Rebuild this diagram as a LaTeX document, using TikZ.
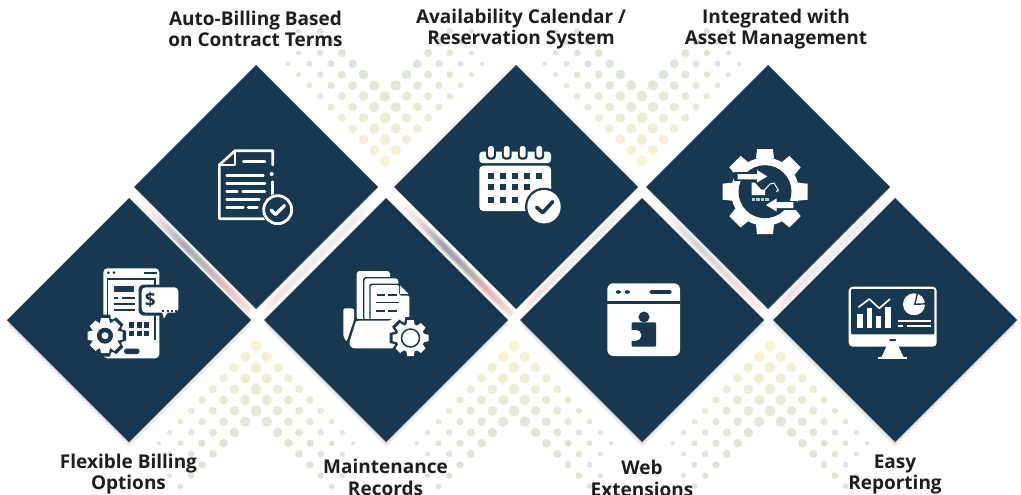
\documentclass[tikz,border=0pt]{standalone}
\usepackage{fontspec}
\setmainfont{Open Sans}
\usetikzlibrary{calc}
\definecolor{navy}{HTML}{163850}
\definecolor{dotyel}{HTML}{F9F3D0}
\definecolor{dotgrn}{HTML}{DDE6D6}
\definecolor{labelink}{HTML}{1E1E1E}
\pgfdeclarehorizontalshading{gapshade}{100bp}{color(0bp)=(white);color(25bp)=(white);color(33bp)=(rgb,255:red,240;green,224;blue,226);color(45bp)=(rgb,255:red,150;green,150;blue,162);color(53bp)=(rgb,255:red,165;green,160;blue,170);color(64bp)=(rgb,255:red,234;green,170;blue,174);color(75bp)=(rgb,255:red,245;green,232;blue,232);color(100bp)=(white)}
\pgfdeclarehorizontalshading{lightshade}{100bp}{color(0bp)=(white);color(25bp)=(white);color(32bp)=(rgb,255:red,240;green,210;blue,212);color(45bp)=(rgb,255:red,228;green,230;blue,234);color(65bp)=(rgb,255:red,226;green,229;blue,233);color(75bp)=(white);color(100bp)=(white)}
\newcommand{\dotfield}[3]{% x, y, dir
  \foreach \u in {0,...,10}{\foreach \v in {0,...,10}{
    \pgfmathtruncatemacro{\mn}{min(\u,\v)}
    \pgfmathtruncatemacro{\mx}{max(\u,\v)}
    \pgfmathtruncatemacro{\lim}{\mn>=2 ? 10 : 9}
    \pgfmathtruncatemacro{\keep}{(\mn<=3 && \mx<=\lim) ? 1 : 0}
    \ifnum\keep=1
      \pgfmathsetmacro{\rr}{5.5-0.37*abs(\u-\v)}
      \pgfmathtruncatemacro{\tt}{min(100,max(0,100-(\u+\v)*12))}
      \fill[dotyel!\tt!dotgrn] ({#1+10.8*(\v-\u)},{#2+#3*10.8*(\u+\v)}) circle[radius=\rr];
    \fi
  }}
}
\newcommand{\gearshape}[7]{% x,y,root,tip,n,colour,tooth half-width
  \fill[#6] (#1,#2) circle[radius=#3];
  \foreach \k in {1,...,#5}{
    \fill[#6,shift={(#1,#2)},rotate=\k*360/#5] (#3-1,-#7-1) -- (#4,-#7) -- (#4,#7) -- (#3-1,#7+1) -- cycle;
  }
}
\newcommand{\shadowof}[2]{%
  \foreach \k in {1,...,6}{
    \fill[black,opacity=.022,shift={(#1,#2+\k)}] (0,-122) -- (122,0) -- (0,122) -- (-122,0) -- cycle;
  }
}
% x, y (upper-left end), rotation, length, shading, opacity
\newcommand{\gapband}[6]{%
  \begin{scope}[shift={(#1,#2)},rotate=#3]
    \shade[shading=#5,opacity=#6] (0,-4) rectangle (#4,4);
    \fill[white,opacity=.5] (0,-4) rectangle (#4,-2.6);
    \fill[white,opacity=.5] (0,2.6) rectangle (#4,4);
  \end{scope}
}
\tikzset{
  diamondbox/.style={draw=none,fill=navy},
  cardlabel/.style={font=\bfseries\fontsize{19}{21.3}\selectfont,text=labelink,align=center,inner sep=0pt},
  whiteline/.style={draw=white,line width=2.6pt,line cap=round,line join=round},
  thinline/.style={draw=white,line width=2.8pt,line cap=round},
}
\begin{document}
\begin{tikzpicture}[x=1pt,y=-1pt]
\useasboundingbox (0,0) rectangle (1021,495);
\fill[white] (0,0) rectangle (1021,495);
\begin{scope}
\clip (0,0) rectangle (1021,495);
% dot fields
\dotfield{385}{161}{-1}
\dotfield{642}{161}{-1}
\dotfield{256}{346}{1}
\dotfield{514}{346}{1}
\dotfield{770}{346}{1}
% shadows
\shadowof{129}{320}\shadowof{386}{320}\shadowof{642}{320}\shadowof{895}{320}
% gaps between the rows
\gapband{140}{201}{-45}{155.6}{gapshade}{.8}
\gapband{400}{202.5}{-45}{158.4}{gapshade}{.9}
\gapband{652}{200}{-45}{155.6}{gapshade}{.4}
\gapband{262}{312.5}{45}{155.6}{lightshade}{.7}
\gapband{522}{310.5}{45}{155.6}{lightshade}{.7}
\gapband{774}{311}{45}{155.6}{lightshade}{.7}
% diamonds
\foreach \nm/\cx/\cy in {d1/256/187,d2/516/187,d3/768/187,d4/129/320,d5/386/320,d6/642/320,d7/895/320}{
  \fill[diamondbox] (\cx,\cy-122) -- (\cx+122,\cy) -- (\cx,\cy+122) -- (\cx-122,\cy) -- cycle;
  \coordinate (\nm) at (\cx,\cy);
}
% ---- document icon
\draw[whiteline] (272.7,165) -- (272.7,150.7) -- (235,150.7) -- (219.3,165) -- (219.3,218.7) -- (265,218.7);
\draw[whiteline] (235,150.7) -- (235,165) -- (219.3,165);
\fill[white] (271.7,174) circle[radius=2];
\draw[whiteline] (272.2,181.7) -- (272.2,195);
\foreach \a/\b/\yy in {243.3/265/161.7,226.7/263.3/175.7,226.7/265/183.7,226.7/237.3/191.7,242.7/265/191.7,226.7/259.3/199.3,226.7/243.3/207.3,248.3/257.3/207.3}{
  \draw[thinline] (\a,\yy) -- (\b,\yy);
}
\fill[navy] (277.7,209.7) circle[radius=16];
\draw[white,line width=2.8pt] (277.7,209.7) circle[radius=14];
\draw[white,line width=3.2pt,line cap=round,line join=round] (271,210) -- (275.5,214.5) -- (284.5,205.5);
% ---- calendar icon
\fill[white,rounded corners=3pt] (479.3,151.7) rectangle (551,163);
\fill[white,rounded corners=4pt] (479.3,165.7) rectangle (551,211);
\foreach \xx in {491,506.7,522.7,539.3}{
  \fill[navy,rounded corners=3pt] (\xx-4.8,144.5) rectangle (\xx+4.8,159.5);
  \fill[white,rounded corners=2.5pt] (\xx-2.9,146) rectangle (\xx+2.9,157.5);
}
\foreach \xx/\yy in {491/175.7,503.3/175.7,515.3/175.7,527.3/175.7,539.3/175.7,491/187.3,503.3/187.3,515.3/187.3,527.3/187.3,491/199.7,503.3/199.7,515.3/199.7}{
  \fill[navy] (\xx-3,\yy-3) rectangle (\xx+3,\yy+3);
}
\fill[navy] (544,206.7) circle[radius=19];
\fill[white] (544,206.7) circle[radius=16.7];
\draw[navy,line width=3.6pt,line cap=round,line join=round] (536.7,207.3) -- (542.7,212.7) -- (552.7,201.7);
% ---- gear icon
\gearshape{765}{191.7}{34}{42.5}{8}{white}{8}
\fill[navy] (765,191.7) circle[radius=26.5];
\draw[navy,line width=9pt] (734,176.7) -- (760,176.7);
\draw[navy,line width=9pt] (770,205) -- (797,205);
\fill[white] (737.7,174) -- (757,174) -- (757,170) -- (767.3,176.5) -- (757,182.5) -- (757,179.3) -- (737.7,179.3) -- cycle;
\fill[white] (793.3,202) -- (776.5,202) -- (776.5,198.5) -- (766,205) -- (776.5,211.5) -- (776.5,208) -- (793.3,208) -- cycle;
\fill[white] (751.7,182.7) -- (755,182.7) -- (761,189.5) -- (765,189.5) -- (765,195) -- (751.7,195) -- cycle;
\draw[white,line width=1pt,line join=round] (764.5,190) -- (770,184) -- (774,183) -- (778.5,190.5) -- (776,191.5);
\foreach \xx in {753.5,758,762.5,767}{\fill[white!75!navy] (\xx-1.6,197.5) rectangle (\xx+1.6,200.5);}
% ---- phone icon
\fill[white,rounded corners=4pt] (103.3,268.3) rectangle (159.3,358.3);
\fill[navy] (108.3,272.7) circle[radius=1.5] (114,272.7) circle[radius=1.5];
\fill[navy] (144,271.7) rectangle (156.7,273.7);
\draw[navy,line width=1.2pt] (107.5,340) -- (107.5,279) -- (155,279) -- (155,340);
\fill[navy] (114.3,285.7) rectangle (134.3,291.7);
\fill[navy] (113.5,296.5) rectangle (118,298.5);
\fill[navy] (122,296.5) rectangle (135,298.5);
\fill[navy] (113.5,303) rectangle (135,305);
\fill[navy] (113.5,309) rectangle (135,311);
\foreach \xx in {131.7,139.3,146.7}{\foreach \yy in {325,333.3}{
  \fill[navy] (\xx-2.7,\yy-2.7) rectangle (\xx+2.7,\yy+2.7);
}}
\fill[navy,rounded corners=2.5pt] (124,348.5) rectangle (139.5,354);
\fill[navy,rounded corners=5pt] (138.5,284.5) rectangle (181,315.5);
\fill[navy] (160,314) -- (170,314) -- (163,322) -- cycle;
\fill[white,rounded corners=4pt] (141.7,287.3) rectangle (178.3,312.7);
\fill[white] (162,312) -- (168,312) -- (164,318.5) -- cycle;
\node[inner sep=0pt,text=navy,font=\bfseries\fontsize{19}{19}\selectfont] (dollar) at (150.3,300) {\$};
\foreach \xx in {163,167.5,172,176}{\fill[navy] (\xx-1,309.5) rectangle (\xx+1,311.5);}
\gearshape{105}{335.7}{18}{21}{8}{navy}{5}
\gearshape{105}{335.7}{13.5}{17.5}{8}{white}{4}
\fill[navy] (105,335.7) circle[radius=8];
\fill[white] (105,335.7) circle[radius=3.5];
% ---- folder icon
\fill[white,rounded corners=3pt] (356.7,271) rectangle (390,320);
\fill[navy,rounded corners=3pt] (363,277) rectangle (400,320);
\fill[white,rounded corners=3pt] (364.3,278.3) rectangle (398.3,320);
\fill[navy,rounded corners=2pt] (369.3,283.7) -- (400,283.7) -- (410.7,294) -- (410.7,320) -- (369.3,320) -- cycle;
\fill[white,rounded corners=1.5pt] (370.7,285) -- (399,285) -- (399,295.5) -- (409.3,295.5) -- (409.3,320) -- (370.7,320) -- cycle;
\fill[white] (400,285.5) -- (408.5,293.8) -- (400,293.8) -- cycle;
\foreach \a/\b/\yy in {376.7/385/295,388/397/295,376/399/302.5,376/385/311,388/397/311}{
  \fill[navy] (\a,\yy-.9) rectangle (\b,\yy+.9);
}
\fill[navy] (344,318.5) rectangle (412,350);
\fill[white,rounded corners=1.5pt] (343.3,308.3) -- (354,308.3) -- (354,320) -- (346.5,342) -- (343.3,336) -- cycle;
\fill[white,rounded corners=2.5pt] (356,320.7) -- (390,320.7) -- (395,316.7) -- (410,316.7) -- (410,330) -- (396.7,348.3) -- (352,348.3) -- (349,344) -- cycle;
\gearshape{410.5}{338}{17}{21}{8}{navy}{5}
\gearshape{410.5}{338}{14}{18}{8}{white}{3.2}
\draw[navy,line width=1.5pt] (410.5,338) circle[radius=9];
% ---- window icon
\fill[white,rounded corners=6pt] (607.3,283.3) rectangle (680,356);
\fill[navy] (607.3,300.8) rectangle (680,303.6);
\fill[navy] (618.3,292) ellipse[x radius=2.7,y radius=1.8];
\fill[navy] (627.3,292) ellipse[x radius=2.7,y radius=1.8];
\fill[navy,rounded corners=1.5pt] (649.3,290.2) rectangle (671.7,293.8);
\fill[navy] (644,317) circle[radius=5.5];
\fill[navy,rounded corners=1pt] (631.7,322.3) rectangle (656,346.7);
\fill[white] (636,335.3) circle[radius=5.4];
\fill[white] (630,329.5) rectangle (636,341);
% ---- monitor icon
\fill[white,rounded corners=4pt] (848.7,286.7) rectangle (936.7,346.7);
\fill[navy,rounded corners=1pt] (851,289) rectangle (934.3,334.3);
\fill[navy,rounded corners=1pt] (889,339) rectangle (896,341);
\fill[white] (886.7,346) -- (898.3,346) -- (903.5,357) -- (881.5,357) -- cycle;
\fill[white] (878.3,356.7) rectangle (906.7,359);
\foreach \a/\b/\yy in {857.3/862.7/314.3,866.7/872/308.3,876/881.3/316.3,885.3/890.7/307}{
  \fill[white] (\a,\yy) rectangle (\b,327.7);
}
\draw[white,line width=1.6pt,line join=round] (858.3,307.3) -- (869.3,299) -- (879.3,308.3) -- (890,299);
\fill[white] (914,304.3) circle[radius=11];
\draw[navy,line width=1.4pt] (917.7,292.4) -- (914.8,304.3) -- (926.5,303.8);
\fill[white] (898.3,320.3) rectangle (930.7,321.7);
\fill[white] (898.3,325.3) rectangle (903.3,326.7);
\fill[white] (906.7,325.3) rectangle (930.7,326.7);
\end{scope}
% labels
\node[cardlabel] (l1) at (255.5,29.2) {Auto-Billing Based\\on Contract Terms};
\node[cardlabel] (l2) at (521,29.2) {Availability Calendar /\\Reservation System};
\node[cardlabel] (l3) at (776,29.2) {Integrated with\\Asset Management};
\node[cardlabel] (l4) at (128.5,474) {Flexible Billing\\Options};
\node[cardlabel] (l5) at (385.5,477.5) {Maintenance\\Records};
\node[cardlabel] (l6) at (642,478.5) {Web\\Extensions};
\node[cardlabel] (l7) at (895,474.5) {Easy\\Reporting};
\end{tikzpicture}
\end{document}
